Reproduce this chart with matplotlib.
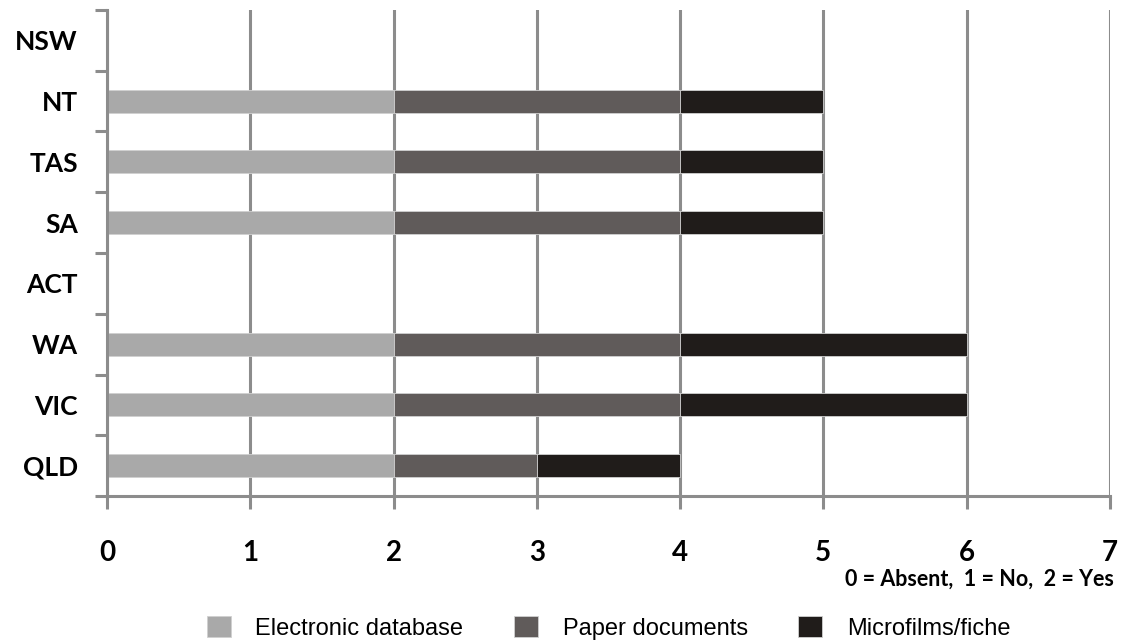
import numpy as np
import matplotlib.pyplot as plt
from matplotlib.patches import Patch

states = ['QLD', 'VIC', 'WA', 'ACT', 'SA', 'TAS', 'NT', 'NSW']
electronic = [2, 2, 2, 0, 2, 2, 2, 0]
paper = [1, 2, 2, 0, 2, 2, 2, 0]
microfilm = [1, 2, 2, 0, 1, 1, 1, 0]

series = ['Electronic database', 'Paper documents', 'Microfilms/fiche']
colors = ['#a9a9a9', '#605b5a', '#201c1a']
ticks = [0, 1, 2, 3, 4, 5, 6, 7]

fig = plt.figure(figsize=(11.21, 6.44), dpi=100)
ax = fig.add_axes([0.0955, 0.2298, 0.8945, 0.7547])

y = np.arange(len(states))
left = np.zeros(len(states))
for vals, c in zip([electronic, paper, microfilm], colors):
    ax.barh(y, vals, left=left, height=0.38, color=c, edgecolor='#d0d0d0',
            linewidth=0.6, zorder=2)
    left += np.array(vals)

grey = '#8c8c8c'
ax.set_xlim(0, 7)
ax.set_ylim(-0.5, len(states) - 0.5)
ax.set_xticks(ticks)
ax.set_xticklabels([str(t) for t in ticks], fontsize=20, fontweight='bold',
                   fontfamily='Lato')
ax.set_yticks(y)
ax.set_yticklabels(states, fontsize=19, fontweight='bold', fontfamily='Lato')
ax.set_yticks(np.arange(-0.5, len(states)), minor=True)
ax.tick_params(axis='y', which='major', length=0, pad=21)
ax.tick_params(axis='y', which='minor', length=9, width=2.2, color=grey)
ax.tick_params(axis='x', which='major', length=9, width=2.2, color=grey, pad=23)
ax.grid(True, axis='x', color=grey, linewidth=2.2, zorder=0)
ax.set_axisbelow(True)
for s in ['top', 'right']:
    ax.spines[s].set_visible(False)
for s in ['left', 'bottom']:
    ax.spines[s].set_color(grey)
    ax.spines[s].set_linewidth(2.2)

fig.text(0.994, 0.101, '0 = Absent,  1 = No,  2 = Yes', ha='right', va='center',
         fontsize=15.5, fontweight='bold', fontfamily='Lato')

handles = [Patch(facecolor=c, edgecolor='#d0d0d0', linewidth=0.6) for c in colors]
fig.legend(handles, series, loc='center', bbox_to_anchor=(0.543, 0.025), ncol=3,
           frameon=False, prop={'family': 'Liberation Sans', 'size': 17},
           handlelength=1.0, handleheight=1.0, handletextpad=1.05,
           columnspacing=2.15)

plt.savefig('out.png', dpi=100)
